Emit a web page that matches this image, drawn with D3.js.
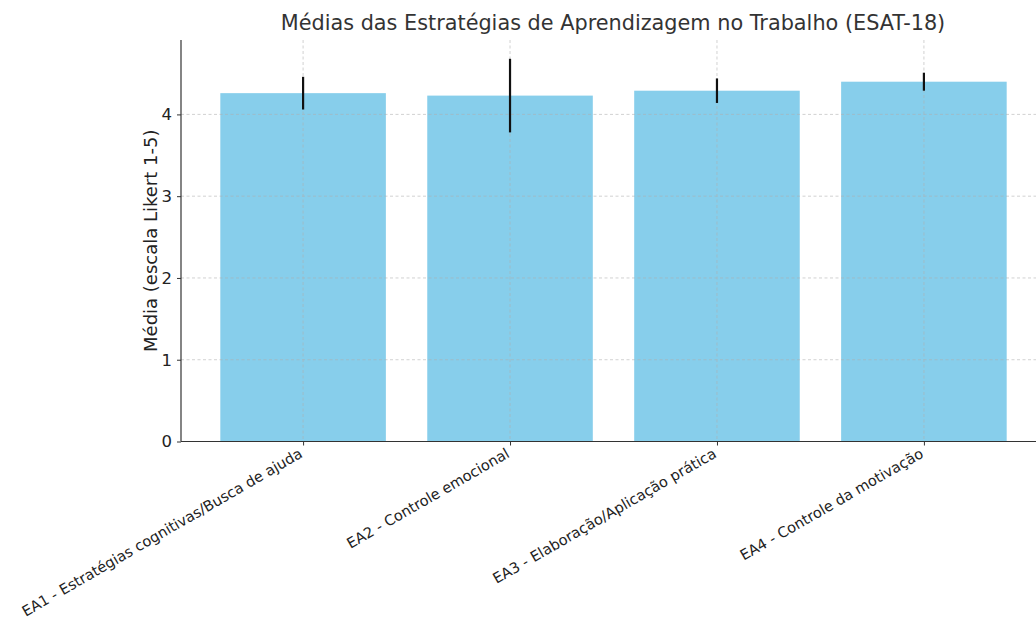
<!DOCTYPE html>
<html>
<head>
<meta charset="utf-8">
<script src="https://cdn.jsdelivr.net/npm/d3@7"></script>
<style>
  body { margin: 0; background: #fff; }
  svg { font-family: "DejaVu Sans", sans-serif; }
</style>
</head>
<body>
<div id="chart"></div>
<script>
// data
const categories = [
  "EA1 - Estratégias cognitivas/Busca de ajuda",
  "EA2 - Controle emocional",
  "EA3 - Elaboração/Aplicação prática",
  "EA4 - Controle da motivação"
];
const means = [4.26, 4.23, 4.29, 4.40];
const stdDevs = [0.20, 0.45, 0.15, 0.11];
const yTicks = [0, 1, 2, 3, 4];

const width = 1036, height = 619;
const plotLeft = 181, plotRight = 1046, plotTop = 40, plotBottom = 441.5;

const svg = d3.select("#chart").append("svg")
  .attr("width", width)
  .attr("height", height);

// matplotlib style: bar width 0.8 with 5% margins on the x range
const x = d3.scaleLinear().domain([-0.59, categories.length - 1 + 0.59]).range([plotLeft, plotRight]);
const y = d3.scaleLinear().domain([0, 4.91]).range([plotBottom, plotTop]);
const barW = x(0.8) - x(0);

// bars
svg.selectAll("rect.bar")
  .data(means)
  .enter()
  .append("rect")
  .attr("class", "bar")
  .attr("x", (d, i) => x(i) - barW / 2)
  .attr("y", d => y(d))
  .attr("width", barW)
  .attr("height", d => y(0) - y(d))
  .attr("fill", "#87ceeb");

// grid on top of the bars
const grid = svg.append("g").attr("stroke", "#b0b0b0").attr("stroke-dasharray", "3,2.5")
  .attr("stroke-width", 0.8).attr("opacity", 0.7);
grid.selectAll("line.h").data(yTicks).enter().append("line")
  .attr("x1", plotLeft).attr("x2", width)
  .attr("y1", d => y(d)).attr("y2", d => y(d));
grid.selectAll("line.v").data(categories).enter().append("line")
  .attr("x1", (d, i) => x(i)).attr("x2", (d, i) => x(i))
  .attr("y1", plotTop).attr("y2", plotBottom);

// error bars
svg.selectAll("line.err")
  .data(means)
  .enter()
  .append("line")
  .attr("x1", (d, i) => x(i))
  .attr("x2", (d, i) => x(i))
  .attr("y1", (d, i) => y(d + stdDevs[i]))
  .attr("y2", (d, i) => y(d - stdDevs[i]))
  .attr("stroke", "#111")
  .attr("stroke-width", 2.2);

// y axis
const yAxis = svg.append("g")
  .attr("transform", "translate(" + plotLeft + ",0)")
  .call(d3.axisLeft(y).tickValues(yTicks).tickSize(4).tickPadding(5).tickFormat(d3.format("d")));
yAxis.select(".domain").attr("stroke", "#333").attr("stroke-width", 1.2).attr("d", "M0," + plotTop + "V" + plotBottom);
yAxis.selectAll(".tick line").attr("stroke", "#333");
yAxis.selectAll("text").attr("fill", "#222").style("font-size", "16.5px")
  .style("font-family", "DejaVu Sans");

// x axis
const xAxis = svg.append("g")
  .attr("transform", "translate(0," + plotBottom + ")")
  .call(d3.axisBottom(x).tickValues(d3.range(categories.length)).tickSize(4)
    .tickFormat(i => categories[i]));
xAxis.select(".domain").attr("stroke", "#333").attr("stroke-width", 1.2).attr("d", "M" + plotLeft + ",0H" + width);
xAxis.selectAll(".tick line").attr("stroke", "#333");
xAxis.selectAll("text")
  .attr("fill", "#222")
  .style("font-size", "14.6px")
  .style("font-family", "DejaVu Sans")
  .attr("text-anchor", "end")
  .attr("dy", null)
  .attr("y", 0)
  .attr("transform", "translate(0,15) rotate(-30)");

// y label
svg.append("text")
  .attr("transform", "translate(157," + (plotTop + plotBottom) / 2 + ") rotate(-90)")
  .attr("text-anchor", "middle")
  .style("font-size", "18px")
  .attr("fill", "#222")
  .text("Média (escala Likert 1-5)");

// title
svg.append("text")
  .attr("x", 613)
  .attr("y", 30)
  .attr("text-anchor", "middle")
  .style("font-size", "20.8px")
  .attr("fill", "#333")
  .text("Médias das Estratégias de Aprendizagem no Trabalho (ESAT-18)");
</script>
</body>
</html>
